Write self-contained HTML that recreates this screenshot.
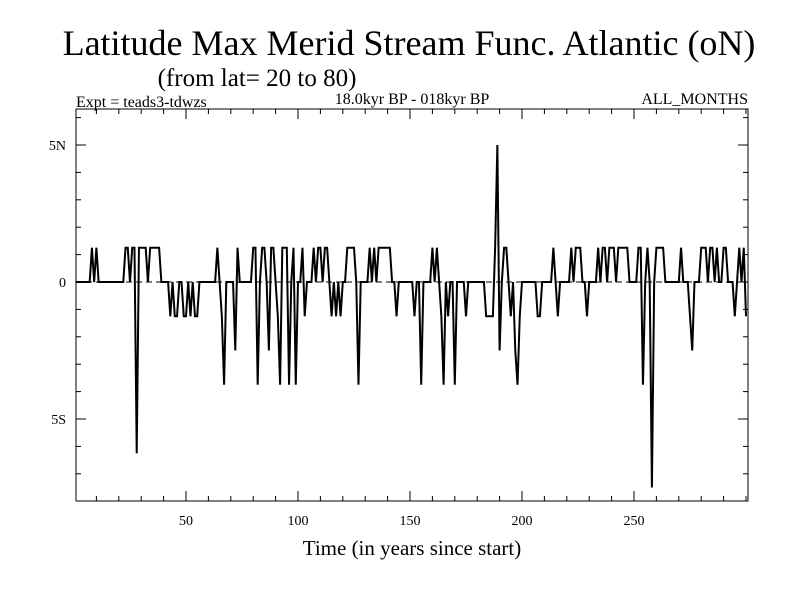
<!DOCTYPE html>
<html><head><meta charset="utf-8"><style>
html,body{margin:0;padding:0;background:#fff;}
svg{display:block;font-family:"Liberation Serif",serif;}
</style></head><body>
<svg id="chart" width="800" height="600">
<text x="409" y="55" font-size="36" text-anchor="middle">Latitude Max Merid Stream Func. Atlantic (oN)</text>
<text x="257" y="86" font-size="25" text-anchor="middle">(from lat= 20 to 80)</text>
<text x="76" y="107" font-size="16">Expt = teads3-tdwzs</text>
<text x="412" y="104" font-size="16" text-anchor="middle">18.0kyr BP - 018kyr BP</text>
<text x="748" y="104" font-size="16" text-anchor="end">ALL_MONTHS</text>
<text x="412" y="555" font-size="21" text-anchor="middle">Time (in years since start)</text>
<g id="axes"></g>
<g id="series"></g>
</svg>
<script>
const xTicks=[50,100,150,200,250];
const yTickVals=[5,0,-5];
const yTickLabels=["5N","0","5S"];
const values=[
0,0,0,0,0,0,0,1.25,0,1.25,0,0,0,0,0,0,0,0,0,0,
0,0,1.25,1.25,0,1.25,1.25,-6.25,1.25,1.25,1.25,1.25,0,1.25,1.25,1.25,1.25,1.25,0,0,
0,0,-1.25,0,-1.25,-1.25,0,0,-1.25,-1.25,0,-1.25,0,-1.25,-1.25,0,0,0,0,0,
0,0,0,1.25,0,-1.25,-3.75,0,0,0,0,-2.5,1.25,0,0,0,0,0,0,1.25,
1.25,-3.75,0,1.25,1.25,0,-2.5,1.25,1.25,0,-1.25,-3.75,1.25,1.25,1.25,-3.75,0,1.25,-3.75,0,
0,1.25,-1.25,0,0,0,1.25,0,1.25,1.25,0,1.25,1.25,0,-1.25,0,-1.25,0,-1.25,0,
0,1.25,1.25,1.25,1.25,0,-3.75,0,0,0,0,1.25,0,1.25,0,1.25,1.25,1.25,1.25,1.25,
1.25,0,0,-1.25,0,0,0,0,0,0,0,-1.25,0,0,-3.75,0,0,0,0,1.25,
0,1.25,0,-1.25,-3.75,0,-1.25,0,0,-3.75,0,0,0,0,-1.25,0,0,0,0,0,
0,0,0,-1.25,-1.25,-1.25,-1.25,1.25,5,-2.5,0,1.25,1.25,0,-1.25,0,-2.5,-3.75,-1.25,0,
0,0,0,0,0,0,-1.25,-1.25,0,0,0,0,0,1.25,0,-1.25,0,0,0,0,
0,1.25,0,1.25,1.25,1.25,0,0,-1.25,0,0,0,0,1.25,0,1.25,1.25,0,1.25,1.25,
1.25,0,1.25,1.25,1.25,1.25,1.25,0,0,0,0,1.25,1.25,-3.75,0,1.25,0,-7.5,0,1.25,
1.25,1.25,1.25,0,0,0,0,0,0,0,1.25,0,0,0,-1.25,-2.5,0,0,0,1.25,
1.25,1.25,0,1.25,1.25,0,1.25,0,0,1.25,1.25,0,0,0,-1.25,0,1.25,0,1.25,-1.25
];
const L=76,R=748,T=109,B=501;
const xs=v=>74+(v)*2.24;
const ys=v=>282-v*27.4;
const NS="http://www.w3.org/2000/svg";
const ax=document.getElementById('axes'),sr=document.getElementById('series');
function mk(tag,at,parent){const e=document.createElementNS(NS,tag);for(const k in at)e.setAttribute(k,at[k]);parent.appendChild(e);return e;}
const frame=mk('rect',{x:L,y:T,width:R-L,height:B-T,fill:'none',stroke:'#000','stroke-width':1},ax);


const zl=mk('line',{x1:L,x2:R,y1:ys(0),y2:ys(0),stroke:'#000','stroke-dasharray':'6,4'},ax);


for(let v=10;v<=300;v+=10){const x=xs(v);if(x>R)break;const big=xTicks.includes(v);const len=big?10:5;
const t=mk('line',{x1:x,x2:x,y1:B,y2:B-len,stroke:'#000'},ax);


const t2=mk('line',{x1:x,x2:x,y1:T,y2:T+len,stroke:'#000'},ax);

}
xTicks.forEach(v=>{const tx=mk('text',{x:xs(v),y:525,'font-size':14,'text-anchor':'middle'},ax);tx.textContent=v;

});
for(let v=-8;v<=6;v++){const y=ys(v);if(y<T||y>B)continue;const big=yTickVals.includes(v);const len=big?10:5;
const t=mk('line',{x1:L,x2:L+len,y1:y,y2:y,stroke:'#000'},ax);


const t2=mk('line',{x1:R,x2:R-len,y1:y,y2:y,stroke:'#000'},ax);

}
yTickVals.forEach((v,i)=>{const tx=mk('text',{x:66,y:ys(v)+5,'font-size':14,'text-anchor':'end'},ax);tx.textContent=yTickLabels[i];

});
const pts=values.map((v,i)=>xs(i+1).toFixed(2)+','+ys(v).toFixed(2)).join(' ');
const pl=mk('polyline',{points:pts,fill:'none',stroke:'#000','stroke-width':2,'stroke-linejoin':'miter'},sr);


</script>
</body></html>
